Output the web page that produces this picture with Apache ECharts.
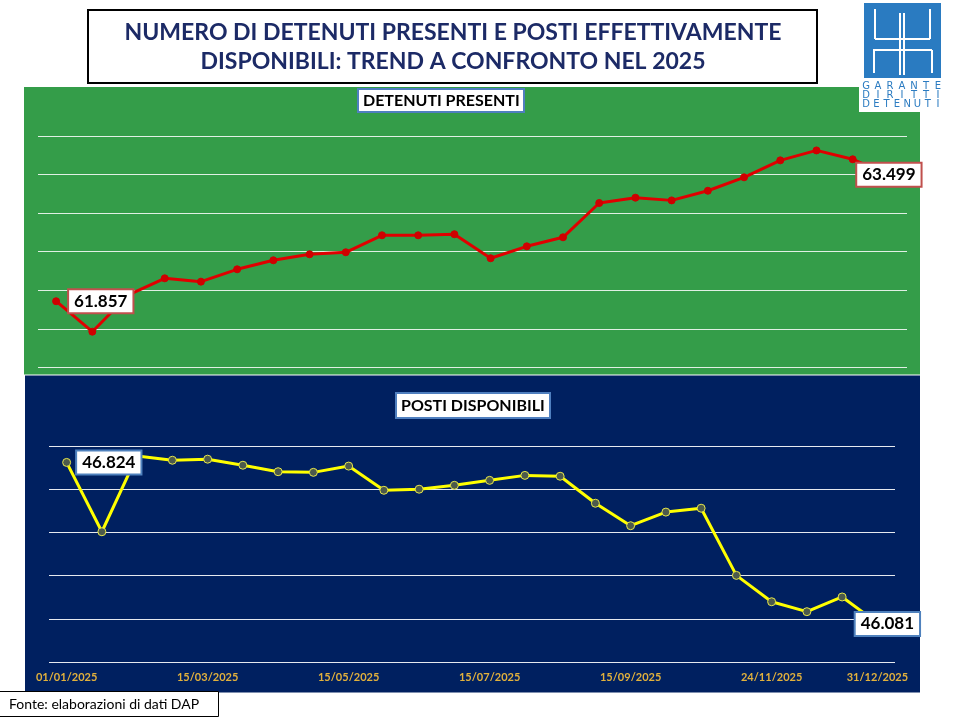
<!DOCTYPE html>
<html>
<head>
<meta charset="utf-8">
<title>Detenuti presenti e posti disponibili 2025</title>
<script src="https://cdn.jsdelivr.net/npm/echarts@6/dist/echarts.min.js"></script>
<style>
  html, body { margin: 0; padding: 0; background: #ffffff; }
  #chart { width: 960px; height: 720px; }
</style>
</head>
<body>
<div id="chart"></div>
<script>
// ---- Data (intermediate values estimated) ----
const categories = [
  '01/01/2025', '31/01/2025', '15/02/2025', '28/02/2025',
  '15/03/2025', '31/03/2025', '15/04/2025', '30/04/2025',
  '15/05/2025', '31/05/2025', '15/06/2025', '30/06/2025',
  '15/07/2025', '31/07/2025', '15/08/2025', '31/08/2025',
  '15/09/2025', '30/09/2025', '15/10/2025', '31/10/2025',
  '24/11/2025', '30/11/2025', '15/12/2025', '31/12/2025'
];
const detenutiPresenti = [
  61857, 61462, 61938, 62154, 62111, 62271, 62388, 62466,
  62492, 62712, 62712, 62726, 62414, 62569, 62686, 63131,
  63200, 63165, 63290, 63464, 63684, 63813, 63698, 63499
];
const postiDisponibili = [
  46824, 46503, 46854, 46834, 46839, 46811, 46781, 46778,
  46807, 46695, 46700, 46718, 46741, 46764, 46760, 46635,
  46531, 46594, 46612, 46301, 46179, 46133, 46201, 46081
];
const detenutiAxisMin = 61000, detenutiAxisMax = 64000, detenutiAxisStep = 500;
const postiAxisMin = 45900, postiAxisMax = 46900, postiAxisStep = 200;
const shownDateLabels = [0, 4, 8, 12, 16, 20, 23];

const titleLines = ['NUMERO DI DETENUTI PRESENTI E POSTI EFFETTIVAMENTE', 'DISPONIBILI: TREND A CONFRONTO NEL 2025'];
const panelTitleTop = 'DETENUTI PRESENTI';
const panelTitleBottom = 'POSTI DISPONIBILI';
const sourceText = 'Fonte: elaborazioni di dati DAP';
const logoWords = ['GARANTE', 'DIRITTI', 'DETENUTI'];

// ---- Helpers ----
const FONT = 'Lato, "Open Sans", "DejaVu Sans", sans-serif';
function fmt(v) { return String(v).replace(/\B(?=(\d{3})+(?!\d))/g, '.'); }

function labelStyle(borderColor) {
  return {
    show: true,
    formatter: p => fmt(p.value),
    color: '#000000',
    fontFamily: FONT,
    fontWeight: 'bold',
    fontSize: 17,
    backgroundColor: '#ffffff',
    borderColor: borderColor,
    borderWidth: 2,
    padding: [3, 5, 2, 5]
  };
}
function buildData(values, borderColor, firstDist, lastOffset) {
  const last = values.length - 1;
  return values.map((v, i) => {
    if (i === 0) {
      return { value: v, label: Object.assign(labelStyle(borderColor), { position: 'right', distance: firstDist }) };
    }
    if (i === last) {
      return { value: v, label: Object.assign(labelStyle(borderColor), { position: 'inside', offset: lastOffset }) };
    }
    return v;
  });
}

// ---- Logo graphic ----
const logoBlue = '#2A7BC1';
const logoEls = [
  { type: 'rect', shape: { x: 859, y: 0, width: 90, height: 112 }, style: { fill: '#ffffff' }, z: 4 },
  { type: 'rect', shape: { x: 864, y: 3, width: 77, height: 75 }, style: { fill: logoBlue }, z: 5 }
];
const whiteLines = [
  [875, 9, 875, 39], [930, 9, 930, 39], [875, 39, 930, 39],
  [873, 50, 932, 50], [874, 50, 874, 73], [932, 50, 932, 73],
  [900, 13, 900, 75], [904, 13, 904, 75]
];
whiteLines.forEach(l => logoEls.push({
  type: 'line', shape: { x1: l[0], y1: l[1], x2: l[2], y2: l[3] },
  style: { stroke: '#ffffff', lineWidth: 2 }, z: 6
}));
logoWords.forEach((w, row) => {
  const n = w.length;
  const x0 = 866, x1 = 938;
  for (let k = 0; k < n; k++) {
    logoEls.push({
      type: 'text', z: 6,
      style: {
        text: w[k], x: x0 + (x1 - x0) * k / (n - 1), y: 86 + row * 9.3,
        fill: logoBlue, font: '10px "DejaVu Sans", sans-serif',
        textAlign: 'center', textVerticalAlign: 'middle'
      }
    });
  }
});

const chart = echarts.init(document.getElementById('chart'), null, { renderer: 'canvas' });

const option = {
  animation: false,
  backgroundColor: '#ffffff',
  title: [
    {
      text: panelTitleTop, left: 358, top: 89,
      backgroundColor: '#ffffff', borderColor: '#4F7FBF', borderWidth: 2,
      padding: [4, 5, 3, 5],
      textStyle: { color: '#000000', fontFamily: FONT, fontWeight: 'bold', fontSize: 16 }
    },
    {
      text: panelTitleBottom, left: 396, top: 393,
      backgroundColor: '#ffffff', borderColor: '#4F7FBF', borderWidth: 2,
      padding: [5, 5, 4, 5],
      textStyle: { color: '#000000', fontFamily: FONT, fontWeight: 'bold', fontSize: 16 }
    },
    {
      text: sourceText, left: -1, top: 691,
      backgroundColor: '#ffffff', borderColor: '#000000', borderWidth: 1,
      padding: [6, 20, 6, 10],
      textStyle: { color: '#000000', fontFamily: FONT, fontWeight: 'normal', fontSize: 14 }
    }
  ],
  graphic: [
    { type: 'rect', shape: { x: 24, y: 87, width: 896, height: 287.5 }, style: { fill: '#349D49' }, z: -10 },
    { type: 'rect', shape: { x: 25, y: 375.5, width: 895, height: 317 }, style: { fill: '#002060' }, z: -10 },
    { type: 'rect', shape: { x: 88, y: 10, width: 729, height: 73 }, style: { fill: '#ffffff', stroke: '#000000', lineWidth: 2 }, z: 5 },
    { type: 'text', z: 6, style: { text: titleLines[0], x: 453, y: 33, fill: '#1C2A66', font: 'bold 23px ' + FONT, textAlign: 'center', textVerticalAlign: 'middle' } },
    { type: 'text', z: 6, style: { text: titleLines[1], x: 453, y: 62, fill: '#1C2A66', font: 'bold 23px ' + FONT, textAlign: 'center', textVerticalAlign: 'middle' } }
  ].concat(logoEls),
  grid: [
    { left: 38, right: 53, top: 136, height: 231.3 },
    { left: 49, right: 65, top: 446, height: 216 }
  ],
  xAxis: [
    {
      type: 'category', gridIndex: 0, data: categories, boundaryGap: true,
      axisLine: { show: false }, axisTick: { show: false }, axisLabel: { show: false }, splitLine: { show: false }
    },
    {
      type: 'category', gridIndex: 1, data: categories, boundaryGap: true,
      axisLine: { show: false }, axisTick: { show: false }, splitLine: { show: false },
      axisLabel: {
        show: true, margin: 10,
        interval: (i) => shownDateLabels.indexOf(i) >= 0,
        color: '#E2B13C', fontFamily: FONT, fontWeight: 'bold', fontSize: 11
      }
    }
  ],
  yAxis: [
    {
      type: 'value', gridIndex: 0, min: detenutiAxisMin, max: detenutiAxisMax, interval: detenutiAxisStep,
      axisLine: { show: false }, axisTick: { show: false }, axisLabel: { show: false },
      splitLine: { show: true, lineStyle: { color: 'rgba(255,255,255,0.85)', width: 1.2 } }
    },
    {
      type: 'value', gridIndex: 1, min: postiAxisMin, max: postiAxisMax, interval: postiAxisStep,
      axisLine: { show: false }, axisTick: { show: false }, axisLabel: { show: false },
      splitLine: { show: true, lineStyle: { color: 'rgba(255,255,255,0.9)', width: 1.2 } }
    }
  ],
  series: [
    {
      name: panelTitleTop, type: 'line', xAxisIndex: 0, yAxisIndex: 0,
      data: buildData(detenutiPresenti, '#C0504D', 9, [0, 0]),
      lineStyle: { color: '#E00000', width: 3 },
      itemStyle: { color: '#D00000', borderColor: '#D00000', borderWidth: 1 },
      symbol: 'circle', symbolSize: 7, showAllSymbol: true,
      label: { show: false }
    },
    {
      name: panelTitleBottom, type: 'line', xAxisIndex: 1, yAxisIndex: 1,
      data: buildData(postiDisponibili, '#4F81BD', 6, [10, 1]),
      lineStyle: { color: '#FFFF00', width: 3 },
      itemStyle: { color: '#4C5A4C', borderColor: '#E8E84A', borderWidth: 1 },
      symbol: 'circle', symbolSize: 8, showAllSymbol: true,
      label: { show: false }
    }
  ]
};
chart.setOption(option);
</script>
</body>
</html>
